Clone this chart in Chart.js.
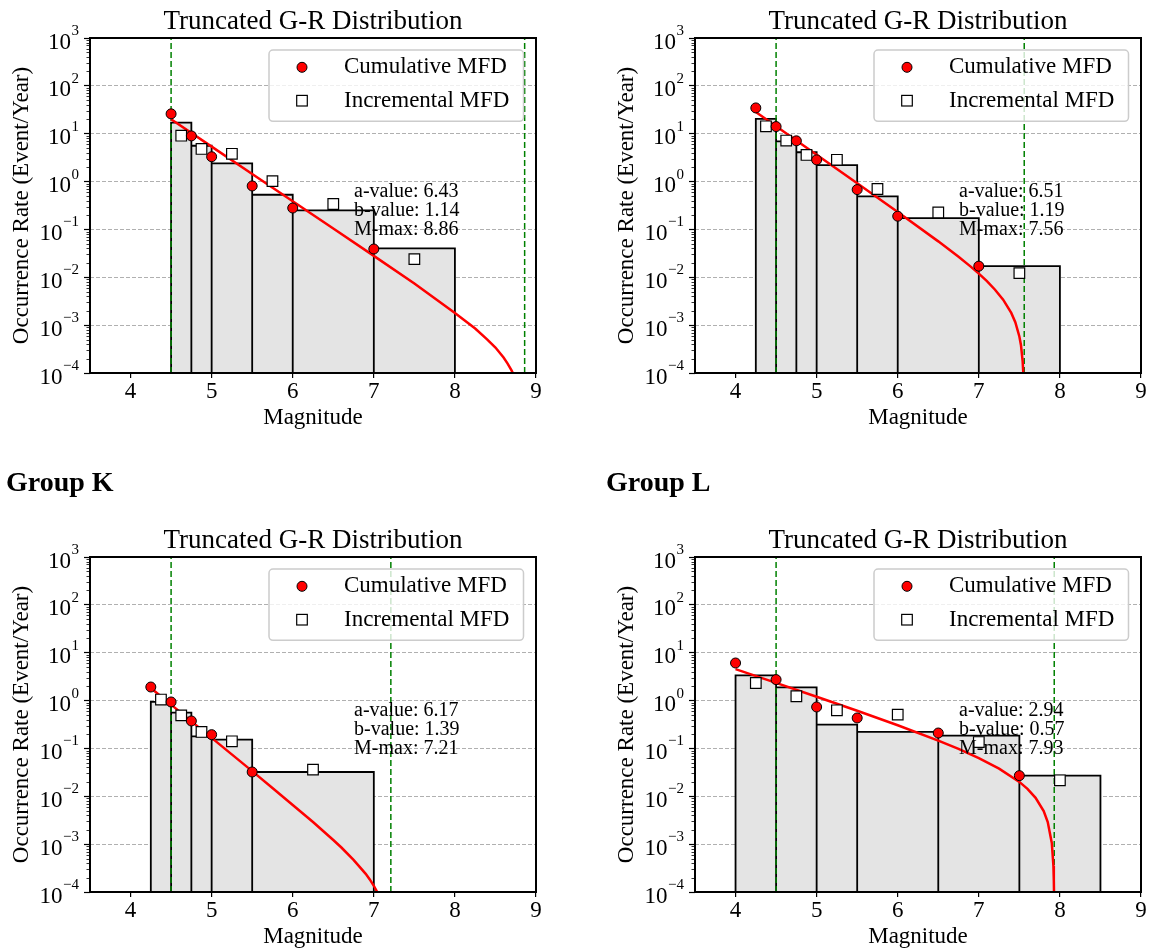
<!DOCTYPE html>
<html lang="en">
<head>
<meta charset="UTF-8">
<title>Truncated G-R Distribution</title>
<script src="https://cdn.jsdelivr.net/npm/chart.js"></script>
<style>
    body { margin: 0; background: #fff; }
    .page { position: relative; width: 1150px; height: 952px; }
    .page canvas { position: absolute; }
</style>
</head>
<body>
<div class="page">
    <canvas id="chartI" width="575" height="450" style="left:0;top:0"></canvas>
    <canvas id="chartJ" width="575" height="450" style="left:575px;top:0"></canvas>
    <canvas id="chartK" width="575" height="502" style="left:0;top:450px"></canvas>
    <canvas id="chartL" width="575" height="502" style="left:575px;top:450px"></canvas>
</div>

<script>
    const FONT = "'Liberation Serif', 'Times New Roman', serif";

    // axes
    const magTicks = [4, 5, 6, 7, 8, 9];
    const rateTicks = [1e-4, 1e-3, 1e-2, 1e-1, 1e0, 1e1, 1e2, 1e3];

    // top left panel
    const binsI = [4.5, 4.75, 5.0, 5.5, 6.0, 7.0, 8.0];
    const barRateI = [17, 5.6, 2.4, 0.53, 0.25, 0.04];
    const cumMagI = [4.5, 4.75, 5.0, 5.5, 6.0, 7.0];
    const cumRateI = [26, 9.0, 3.3, 0.81, 0.28, 0.039];
    const incMagI = [4.625, 4.875, 5.25, 5.75, 6.5, 7.5];
    const incRateI = [9.1, 4.8, 3.8, 1.02, 0.34, 0.024];
    const fitMagI = [4.5, 5.0, 5.5, 6.0, 6.5, 7.0, 7.5, 8.0, 8.25, 8.4, 8.5, 8.6, 8.65, 8.7, 8.72];
    const fitRateI = [20, 5.37, 1.44, 0.389, 0.105, 0.028, 0.0074, 0.0018, 0.00085, 0.0005, 0.00034, 0.00021, 0.000157, 0.000112, 0.000095];
    const vLinesI = [4.5, 8.86];
    const statsI = ['a-value: 6.43', 'b-value: 1.14', 'M-max: 8.86'];

    // top right panel
    const binsJ = [4.25, 4.5, 4.75, 5.0, 5.5, 6.0, 7.0, 8.0];
    const barRateJ = [20.4, 6.9, 4.1, 2.2, 0.49, 0.172, 0.0171];
    const cumMagJ = [4.25, 4.5, 4.75, 5.0, 5.5, 6.0, 7.0];
    const cumRateJ = [34.6, 14.1, 7.1, 2.84, 0.68, 0.189, 0.0171];
    const incMagJ = [4.375, 4.625, 4.875, 5.25, 5.75, 6.5, 7.5];
    const incRateJ = [14.3, 7.2, 3.6, 2.85, 0.70, 0.226, 0.0122];
    const fitMagJ = [4.25, 4.5, 5.0, 5.5, 6.0, 6.5, 6.75, 6.9, 7.0, 7.1, 7.2, 7.3, 7.4, 7.45, 7.5, 7.52, 7.54, 7.55];
    const fitRateJ = [28.4, 14.3, 3.63, 0.919, 0.231, 0.0563, 0.0268, 0.0167, 0.0119, 0.0083, 0.0055, 0.0034, 0.0018, 0.00115, 0.00058, 0.00038, 0.00018, 0.000089];
    const vLinesJ = [4.5, 7.56];
    const statsJ = ['a-value: 6.51', 'b-value: 1.19', 'M-max: 7.56'];

    // Group K
    const binsK = [4.25, 4.5, 4.75, 5.0, 5.5, 7.0];
    const barRateK = [0.94, 0.56, 0.179, 0.153, 0.0322];
    const cumMagK = [4.25, 4.5, 4.75, 5.0, 5.5];
    const cumRateK = [1.92, 0.935, 0.375, 0.194, 0.0322];
    const incMagK = [4.375, 4.625, 4.875, 5.25, 6.25];
    const incRateK = [1.05, 0.49, 0.221, 0.141, 0.036];
    const fitMagK = [4.25, 4.5, 5.0, 5.5, 5.75, 6.0, 6.25, 6.5, 6.6, 6.75, 6.9, 6.95, 7.0, 7.05];
    const fitRateK = [1.83, 0.822, 0.166, 0.0335, 0.0149, 0.0066, 0.0029, 0.00122, 0.00085, 0.00047, 0.00024, 0.000183, 0.000135, 0.000094];
    const vLinesK = [4.5, 7.21];
    const statsK = ['a-value: 6.17', 'b-value: 1.39', 'M-max: 7.21'];

    // Group L
    const binsL = [4.0, 4.5, 5.0, 5.5, 6.5, 7.5, 8.5];
    const barRateL = [3.37, 1.89, 0.314, 0.221, 0.185, 0.027];
    const cumMagL = [4.0, 4.5, 5.0, 5.5, 6.5, 7.5];
    const cumRateL = [6.1, 2.74, 0.735, 0.433, 0.21, 0.027];
    const incMagL = [4.25, 4.75, 5.25, 6.0, 7.0, 8.0];
    const incRateL = [2.33, 1.23, 0.626, 0.508, 0.136, 0.0216];
    const fitMagL = [4.0, 4.5, 5.0, 5.5, 6.0, 6.5, 6.75, 7.0, 7.25, 7.5, 7.6, 7.7, 7.8, 7.85, 7.9, 7.92, 7.925, 7.928];
    const fitRateL = [4.55, 2.35, 1.20, 0.612, 0.305, 0.146, 0.0975, 0.0628, 0.0379, 0.0200, 0.0143, 0.0093, 0.0049, 0.0029, 0.00106, 0.00035, 0.000175, 0.00008];
    const vLinesL = [4.5, 7.93];
    const statsL = ['a-value: 2.94', 'b-value: 0.57', 'M-max: 7.93'];

    const yMin = rateTicks[0];
    const yMax = rateTicks[rateTicks.length - 1];

    function pairs(xs, ys) {
        return xs.map((x, i) => ({x: x, y: ys[i]}));
    }

    // outline of the step histogram, every bin drawn down to the axis
    function histPath(edges, rates) {
        const pts = [{x: edges[0], y: yMin}];
        rates.forEach((r, i) => {
            pts.push({x: edges[i], y: r}, {x: edges[i + 1], y: r}, {x: edges[i + 1], y: yMin});
        });
        return pts;
    }

    function decorPlugin(p) {
        return {
            id: 'decor',
            afterDatasetsDraw(chart) {
                const ctx = chart.ctx;
                const a = chart.chartArea;
                ctx.save();

                // fit parameters
                ctx.fillStyle = '#000';
                ctx.font = '20px ' + FONT;
                ctx.textAlign = 'left';
                ctx.textBaseline = 'middle';
                const tx = a.left + 0.592 * (a.right - a.left);
                const ty = a.top + 0.458 * (a.bottom - a.top);
                p.stats.forEach((s, i) => ctx.fillText(s, tx, ty + i * 19));

                // legend
                ctx.beginPath();
                ctx.roundRect(a.right - 267, a.top + 12, 254.5, 71.3, 4);
                ctx.fillStyle = 'rgba(255,255,255,0.8)';
                ctx.fill();
                ctx.lineWidth = 1.5;
                ctx.strokeStyle = '#cccccc';
                ctx.stroke();

                const mx = a.right - 234;
                const r1 = a.top + 29.3;
                const r2 = a.top + 62.7;
                ctx.beginPath();
                ctx.arc(mx, r1, 5, 0, Math.PI * 2);
                ctx.fillStyle = '#ff0000';
                ctx.fill();
                ctx.lineWidth = 1;
                ctx.strokeStyle = '#000';
                ctx.stroke();
                ctx.fillStyle = '#fff';
                ctx.fillRect(mx - 5.3, r2 - 5.3, 10.6, 10.6);
                ctx.lineWidth = 1.2;
                ctx.strokeRect(mx - 5.3, r2 - 5.3, 10.6, 10.6);

                ctx.fillStyle = '#000';
                ctx.font = '23px ' + FONT;
                ctx.fillText('Cumulative MFD', a.right - 192, r1);
                ctx.fillText('Incremental MFD', a.right - 192, r2);
                ctx.restore();
            },
            afterDraw(chart) {
                const ctx = chart.ctx;
                const a = chart.chartArea;
                const yScale = chart.scales.y;
                ctx.save();

                // minor ticks on the log axis
                ctx.strokeStyle = '#000';
                ctx.lineWidth = 0.8;
                for (let e = -4; e < 3; e++) {
                    for (let k = 2; k < 10; k++) {
                        const y = Math.round(yScale.getPixelForValue(k * Math.pow(10, e))) + 0.5;
                        ctx.beginPath();
                        ctx.moveTo(a.left, y);
                        ctx.lineTo(a.left - 3.5, y);
                        ctx.stroke();
                    }
                }

                // frame
                ctx.lineWidth = 2;
                ctx.strokeRect(a.left, a.top, a.right - a.left, a.bottom - a.top);

                // y tick labels as 10 with a raised exponent
                ctx.fillStyle = '#000';
                ctx.textAlign = 'right';
                ctx.textBaseline = 'alphabetic';
                rateTicks.forEach(v => {
                    const e = Math.round(Math.log10(v));
                    const exp = e < 0 ? '\u2212' + Math.abs(e) : String(e);
                    const y = yScale.getPixelForValue(v);
                    ctx.font = '15px ' + FONT;
                    const w = ctx.measureText(exp).width;
                    ctx.fillText(exp, a.left - 11, y - 3);
                    ctx.font = '23px ' + FONT;
                    ctx.fillText('10', a.left - 11 - w - 0.5, y + 10.5);
                });

                // title and axis titles
                ctx.textAlign = 'center';
                ctx.font = '27px ' + FONT;
                ctx.fillText('Truncated G-R Distribution', (a.left + a.right) / 2, a.top - 9);
                ctx.font = '23px ' + FONT;
                ctx.fillText('Magnitude', (a.left + a.right) / 2, a.bottom + 51);
                ctx.save();
                ctx.translate(a.left - 62, (a.top + a.bottom) / 2);
                ctx.rotate(-Math.PI / 2);
                ctx.fillText('Occurrence Rate (Event/Year)', 0, 0);
                ctx.restore();

                if (p.heading) {
                    ctx.textAlign = 'left';
                    ctx.font = 'bold 28px ' + FONT;
                    ctx.fillText(p.heading, p.headingX, 41);
                }
                ctx.restore();
            }
        };
    }

    function makeChart(p) {
        const canvas = document.getElementById(p.id);
        const box = p.area;
        const datasets = [
            {
                label: 'Cumulative MFD',
                data: pairs(p.cumM, p.cumN),
                showLine: false,
                pointRadius: 5,
                pointBackgroundColor: '#ff0000',
                pointBorderColor: '#000',
                pointBorderWidth: 1,
                order: 0
            },
            {
                label: 'Incremental MFD',
                data: pairs(p.incM, p.incN),
                showLine: false,
                pointStyle: 'rect',
                pointRadius: 7.5,
                pointBackgroundColor: '#fff',
                pointBorderColor: '#000',
                pointBorderWidth: 1.2,
                order: 1
            },
            {
                label: 'Truncated G-R',
                data: pairs(p.fitM, p.fitN),
                borderColor: '#ff0000',
                borderWidth: 2.5,
                pointRadius: 0,
                fill: false,
                order: 2
            }
        ];
        p.vlines.forEach(v => {
            datasets.push({
                label: 'M ' + v,
                data: [{x: v, y: yMin}, {x: v, y: yMax}],
                borderColor: '#008000',
                borderWidth: 1.5,
                borderDash: [6, 3],
                pointRadius: 0,
                fill: false,
                order: 3
            });
        });
        datasets.push({
            label: 'Histogram',
            data: histPath(p.edges, p.rates),
            borderColor: '#000',
            borderWidth: 1.8,
            backgroundColor: '#e4e4e4',
            fill: 'start',
            pointRadius: 0,
            borderJoinStyle: 'miter',
            order: 4
        });

        return new Chart(canvas.getContext('2d'), {
            type: 'line',
            data: {datasets: datasets},
            options: {
                responsive: false,
                animation: false,
                events: [],
                layout: {
                    padding: {left: 0, top: box.top, right: canvas.width - box.right, bottom: 0}
                },
                plugins: {
                    legend: {display: false},
                    tooltip: {enabled: false}
                },
                scales: {
                    x: {
                        type: 'linear',
                        min: 3.5,
                        max: 9,
                        afterBuildTicks: s => { s.ticks = magTicks.map(v => ({value: v})); },
                        afterFit: s => { s.height = canvas.height - box.bottom; },
                        ticks: {
                            color: '#000',
                            font: {family: FONT, size: 23, lineHeight: 1},
                            padding: 2,
                            maxRotation: 0
                        },
                        grid: {
                            drawOnChartArea: false,
                            color: '#000',
                            lineWidth: 1.2,
                            tickLength: 5
                        },
                        border: {display: false}
                    },
                    y: {
                        type: 'logarithmic',
                        min: yMin,
                        max: yMax,
                        afterBuildTicks: s => { s.ticks = rateTicks.map(v => ({value: v})); },
                        afterFit: s => { s.width = box.left; },
                        ticks: {display: false},
                        grid: {
                            color: '#b0b0b0',
                            lineWidth: 1,
                            tickColor: '#000',
                            tickWidth: 1.2,
                            tickLength: 6,
                            tickBorderDash: []
                        },
                        border: {display: false, dash: [4, 2]}
                    }
                }
            },
            plugins: [decorPlugin(p)]
        });
    }

    const topArea = {left: 90, right: 536, top: 38, bottom: 373};
    const topAreaR = {left: 120, right: 566, top: 38, bottom: 373};
    const lowArea = {left: 90, right: 536, top: 107, bottom: 442};
    const lowAreaR = {left: 120, right: 566, top: 107, bottom: 442};

    makeChart({id: 'chartI', area: topArea, edges: binsI, rates: barRateI, cumM: cumMagI, cumN: cumRateI,
        incM: incMagI, incN: incRateI, fitM: fitMagI, fitN: fitRateI, vlines: vLinesI, stats: statsI});
    makeChart({id: 'chartJ', area: topAreaR, edges: binsJ, rates: barRateJ, cumM: cumMagJ, cumN: cumRateJ,
        incM: incMagJ, incN: incRateJ, fitM: fitMagJ, fitN: fitRateJ, vlines: vLinesJ, stats: statsJ});
    makeChart({id: 'chartK', area: lowArea, edges: binsK, rates: barRateK, cumM: cumMagK, cumN: cumRateK,
        incM: incMagK, incN: incRateK, fitM: fitMagK, fitN: fitRateK, vlines: vLinesK, stats: statsK,
        heading: 'Group K', headingX: 6});
    makeChart({id: 'chartL', area: lowAreaR, edges: binsL, rates: barRateL, cumM: cumMagL, cumN: cumRateL,
        incM: incMagL, incN: incRateL, fitM: fitMagL, fitN: fitRateL, vlines: vLinesL, stats: statsL,
        heading: 'Group L', headingX: 31});
</script>
</body>
</html>
